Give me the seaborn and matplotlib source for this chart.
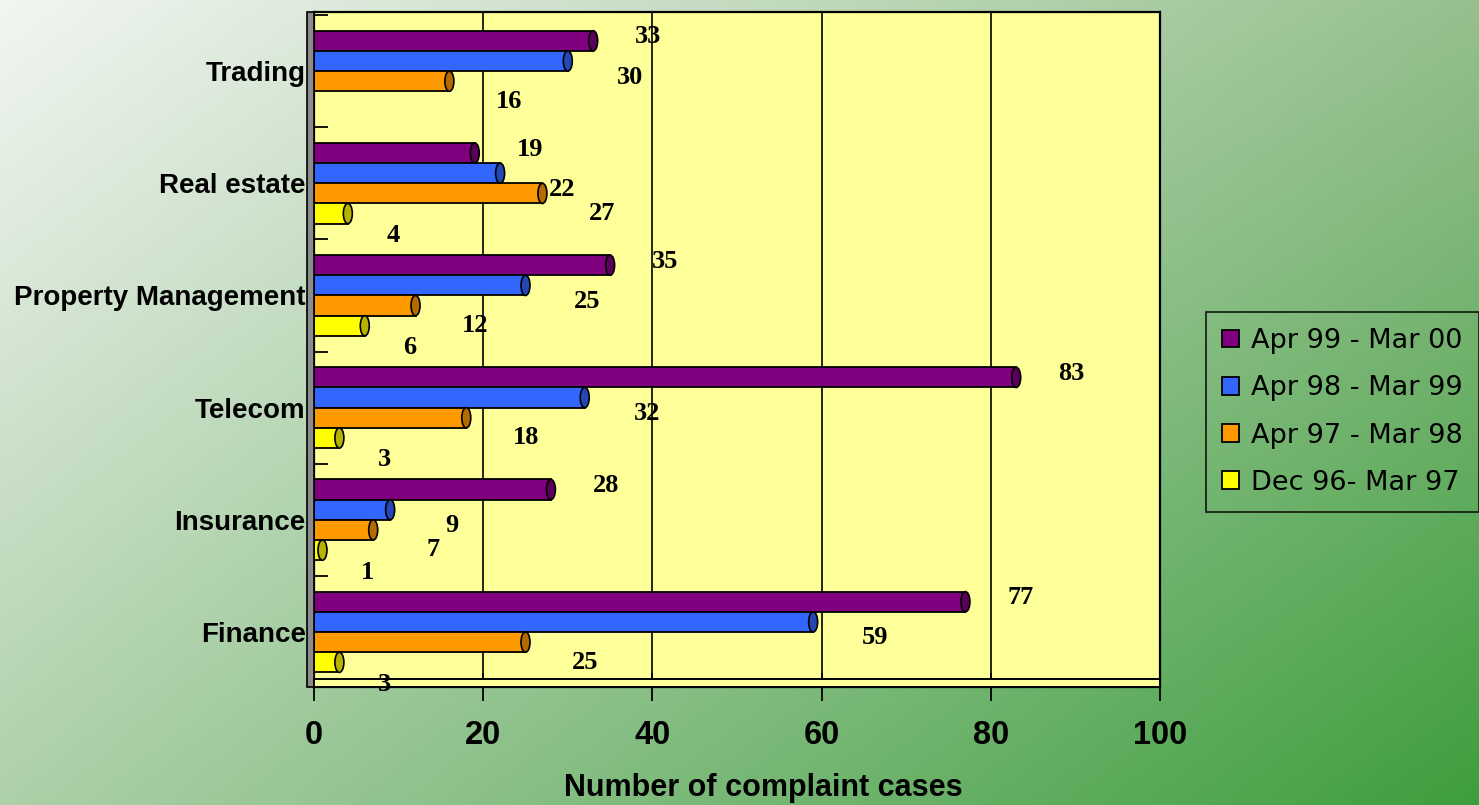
import numpy as np
import pandas as pd
import matplotlib
matplotlib.use("Agg")
import matplotlib.pyplot as plt
from matplotlib.patches import Patch, Rectangle, Ellipse
import seaborn as sns

# ---------------- data ----------------
categories = ["Trading", "Real estate", "Property Management", "Telecom", "Insurance", "Finance"]
series = ["Apr 99 - Mar 00", "Apr 98 - Mar 99", "Apr 97 - Mar 98", "Dec 96- Mar 97"]
vals_99_00 = [33, 19, 35, 83, 28, 77]
vals_98_99 = [30, 22, 25, 32, 9, 59]
vals_97_98 = [16, 27, 12, 18, 7, 25]
vals_96_97 = [np.nan, 4, 6, 3, 1, 3]
x_ticks = [0, 20, 40, 60, 80, 100]
x_label = "Number of complaint cases"

# ---------------- styling ----------------
colors = ["#800080", "#3366FF", "#FF9900", "#FFFF00"]
cap_colors = ["#5a005a", "#2347b3", "#b36b00", "#b3b300"]
label_dx = [55, 62, 60, 45]     # pixel offsets of value labels
label_dy = [-4, 16, 20, 22]

sns.set_style("white")
plt.rcParams["font.family"] = ["Liberation Sans", "DejaVu Sans"]
for k in ["text.color", "axes.labelcolor", "xtick.color", "ytick.color"]:
    plt.rcParams[k] = "black"

rows = []
for s, vals in zip(series, [vals_99_00, vals_98_99, vals_97_98, vals_96_97]):
    for c, v in zip(categories, vals):
        rows.append({"Category": c, "Period": s, "Cases": v})
df = pd.DataFrame(rows)

W, H = 1479, 805
fig = plt.figure(figsize=(W / 100, H / 100), dpi=100)

# gradient background
bg = fig.add_axes([0, 0, 1, 1], zorder=-10)
tl = np.array([242, 246, 242]) / 255
tr = np.array([150, 192, 142]) / 255
bl = np.array([174, 208, 170]) / 255
br = np.array([62, 158, 62]) / 255
gx = np.linspace(0, 1, 300)[None, :, None]
gy = np.linspace(0, 1, 200)[:, None, None]
img = (tl * (1 - gx) * (1 - gy) + tr * gx * (1 - gy) + bl * (1 - gx) * gy + br * gx * gy)
bg.imshow(img, aspect="auto", extent=[0, 1, 0, 1], interpolation="bilinear")
bg.set_axis_off()

ax = fig.add_axes([314 / W, 1 - 687 / H, 846 / W, 675 / H])
ax.set_facecolor("#FFFF99")

sns.barplot(data=df, y="Category", x="Cases", hue="Period", order=categories,
            hue_order=series, palette=colors, orient="h", width=0.72,
            edgecolor="black", linewidth=1.3, saturation=1, legend=False, ax=ax,
            zorder=3)

ax.set_xlim(0, 100)
ax.set_ylim(5.49, -0.527)
ax.set_xticks(x_ticks)
ax.set_xticklabels([str(t) for t in x_ticks], fontsize=23.5, fontweight="bold")
ax.tick_params(axis="x", bottom=True, direction="inout", length=20, width=1.3, pad=14, color="black")
ax.tick_params(axis="y", which="major", left=True, length=0, pad=6)
for t in ax.get_yticklabels():
    t.set_fontsize(20)
    t.set_fontweight("bold")
ax.set_yticks(np.arange(-0.5, 5.5, 1.0), minor=True)
ax.tick_params(axis="y", which="minor", left=True, direction="in", length=10, width=1.3, color="black")
ax.set_xlabel("")
ax.set_ylabel("")

ax.xaxis.grid(True, color="black", linewidth=1.2, zorder=1)
ax.set_axisbelow(True)
for sp in ax.spines.values():
    sp.set_color("black")
    sp.set_linewidth(1.6)
    sp.set_visible(True)

# left 3D wall and floor strip
ax.add_patch(Rectangle((-7 / 846, 0), 7 / 846, 1, transform=ax.transAxes,
                       facecolor="#8c8c8c", edgecolor="black", linewidth=1.2,
                       clip_on=False, zorder=4))
ax.add_patch(Rectangle((0, 0), 1, 8 / 675, transform=ax.transAxes,
                       facecolor="#FFFF99", edgecolor="black", linewidth=1.4,
                       clip_on=False, zorder=4))

# cylinder end caps on each bar
px_per_unit = 846 / 100
for i, vals in enumerate([vals_99_00, vals_98_99, vals_97_98, vals_96_97]):
    off = (i - 1.5) * 0.18
    for j, v in enumerate(vals):
        if np.isnan(v):
            continue
        ax.add_patch(Ellipse((v, j + off), 9 / px_per_unit, 0.18, facecolor=cap_colors[i],
                             edgecolor="black", linewidth=1.2, zorder=4))

# value labels
for i, vals in enumerate([vals_99_00, vals_98_99, vals_97_98, vals_96_97]):
    off = (i - 1.5) * 0.18
    for j, v in enumerate(vals):
        if np.isnan(v):
            continue
        ax.annotate(f"{int(v)}", xy=(v, j + off), xytext=(label_dx[i], -label_dy[i]),
                    textcoords="offset pixels", ha="center", va="center",
                    fontsize=19, fontweight="bold", family=["Liberation Serif"],
                    zorder=6, annotation_clip=False)

fig.text((566 + 960) / 2 / W, 1 - 788 / H, x_label, ha="center", va="center",
         fontsize=22, fontweight="bold")

handles = [Patch(facecolor=c, edgecolor="black", linewidth=1.3) for c in colors]
leg = fig.legend(handles, series, loc="upper left",
                 bbox_to_anchor=(1206 / W, 1 - 312 / H),
                 prop={"family": "DejaVu Sans", "size": 19.5},
                 frameon=True, fancybox=False, edgecolor="black",
                 handlelength=0.62, handleheight=0.62, handletextpad=0.45,
                 labelspacing=0.78, borderpad=0.6, borderaxespad=0)
leg.get_frame().set_facecolor("none")
leg.get_frame().set_linewidth(1.3)

fig.savefig("out.png", dpi=100)
